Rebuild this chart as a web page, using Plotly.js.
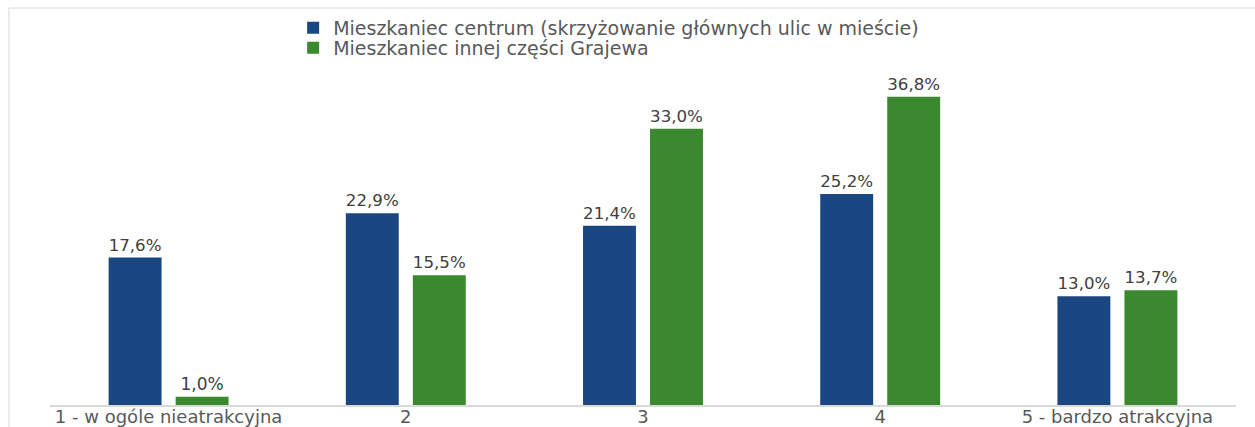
<!DOCTYPE html>
<html><head><meta charset="utf-8">
<script src="https://cdn.plot.ly/plotly-3.0.1.min.js"></script>
<style>html,body{margin:0;padding:0;background:#fff;}#c{width:1255px;height:427px;}</style>
</head><body><div id="c"></div>
<script>
const categories = ["1 - w ogóle nieatrakcyjna", "2", "3", "4", "5 - bardzo atrakcyjna"];
const seriesNames = ["Mieszkaniec centrum (skrzyżowanie głównych ulic w mieście)", "Mieszkaniec innej części Grajewa"];
const centrum = [17.6, 22.9, 21.4, 25.2, 13.0];
const inna = [1.0, 15.5, 33.0, 36.8, 13.7];
const colors = ["#1A4682", "#3B892F"];

const fmt = v => v.toFixed(1).replace('.', ',') + '%';
const font = "DejaVu Sans, sans-serif";
const legendIds = ['legend', 'legend2'];

const traces = [centrum, inna].map((vals, i) => ({
  type: 'bar',
  name: seriesNames[i],
  legend: legendIds[i],
  x: categories,
  y: vals,
  text: vals.map(fmt),
  textposition: 'outside',
  textfont: {family: font, size: 17, color: '#404040'},
  cliponaxis: false,
  marker: {color: colors[i]},
  hoverinfo: 'none'
}));

const legendBase = {
  orientation: 'v', x: 0.205, xanchor: 'left', yanchor: 'middle',
  font: {family: font, size: 19, color: '#595959'},
  itemclick: false, bgcolor: 'rgba(0,0,0,0)'
};

const layout = {
  width: 1255, height: 427,
  margin: {l: 50, r: 19, t: 70, b: 22, autoexpand: false},
  paper_bgcolor: '#fff', plot_bgcolor: '#fff',
  barmode: 'group',
  bargap: 0.435,
  bargroupgap: 0.21,
  font: {family: font, color: '#595959', size: 17},
  showlegend: true,
  legend: Object.assign({}, legendBase, {y: 1.126}),
  legend2: Object.assign({}, legendBase, {y: 1.066}),
  xaxis: {
    type: 'category', showgrid: false, zeroline: false,
    showline: true, linecolor: '#D9D9D9', linewidth: 1.5,
    ticks: '', ticklabelstandoff: -5,
    tickfont: {family: font, size: 18, color: '#595959'}
  },
  yaxis: {
    range: [0, 40], visible: false, showgrid: false, zeroline: false
  },
  shapes: [{
    type: 'rect', xref: 'paper', yref: 'paper',
    x0: -0.0346, x1: 1.05, y0: -0.2, y1: 1.185,
    line: {color: '#D9D9D9', width: 1}, fillcolor: 'rgba(0,0,0,0)'
  }]
};

Plotly.newPlot('c', traces, layout, {displayModeBar: false, staticPlot: true});
</script></body></html>
